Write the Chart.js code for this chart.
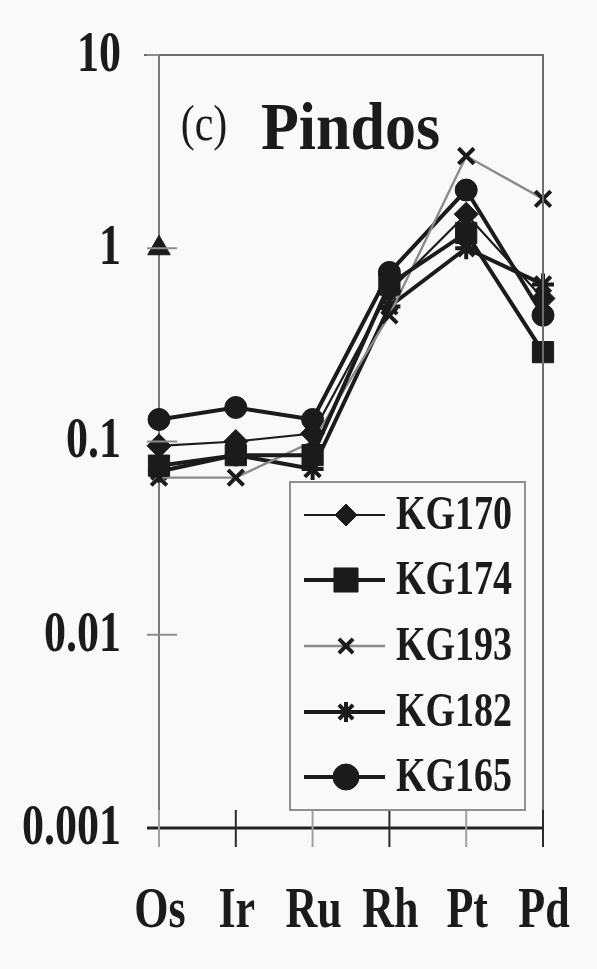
<!DOCTYPE html>
<html>
<head>
<meta charset="utf-8">
<title>Pindos PGE pattern</title>
<script src="https://cdn.jsdelivr.net/npm/chart.js@4/dist/chart.umd.min.js"></script>
<style>
  html, body { margin: 0; padding: 0; background: #f9f9f9; }
  #wrap { width: 597px; height: 969px; }
</style>
</head>
<body>
<div id="wrap"><canvas id="chart" width="597" height="969"></canvas></div>
<script>
// Chondrite-normalised PGE abundances, Pindos samples
const elements = ['Os', 'Ir', 'Ru', 'Rh', 'Pt', 'Pd'];
const kg170 = [0.095, 0.10, 0.11, 0.60, 1.5, 0.55];
const kg174 = [0.075, 0.085, 0.085, 0.65, 1.2, 0.29];
const kg193 = [0.065, 0.065, 0.10, 0.45, 3.0, 1.8];
const kg182 = [0.07, 0.085, 0.072, 0.50, 1.0, 0.65];
const kg165 = [0.13, 0.15, 0.13, 0.75, 2.0, 0.45];
const singleOs = [1, null, null, null, null, null];
const yTickValues = [0.001, 0.01, 0.1, 1, 10];
const yTickLabels = ['0.001', '0.01', '0.1', '1', '10'];

const INK = '#1b1b1b';
const GREY = '#8a8a8a';
const SERIF = '"Liberation Serif", "Times New Roman", serif';

function series(label, data, style, radius, lineWidth, lineColor, markerWidth) {
  return {
    label, data,
    borderColor: lineColor,
    borderWidth: lineWidth,
    pointStyle: style,
    pointRadius: radius,
    pointHoverRadius: radius,
    pointBackgroundColor: INK,
    pointBorderColor: INK,
    pointBorderWidth: markerWidth,
    tension: 0,
    clip: false,
    spanGaps: false
  };
}

const datasets = [
  series('KG170', kg170, 'rectRot', 12, 2.2, INK, 1),
  series('KG174', kg174, 'rect', 15, 4, INK, 1),
  series('KG193', kg193, 'crossRot', 11, 2.4, GREY, 4),
  series('KG182', kg182, 'star', 11, 4, INK, 4),
  series('KG165', kg165, 'circle', 11, 4, INK, 1),
  Object.assign(series('', singleOs, 'triangle', 13, 0, INK, 1), { showLine: false })
];

// text drawn with a vertical stretch factor
function stretchText(ctx, text, x, y, font, sy, align) {
  ctx.save();
  ctx.translate(x, y);
  ctx.scale(1, sy);
  ctx.font = font;
  ctx.fillStyle = INK;
  ctx.textAlign = align || 'center';
  ctx.textBaseline = 'middle';
  ctx.fillText(text, 0, 0);
  ctx.restore();
}

function legendMarker(ctx, style, x, y, r, bw) {
  ctx.fillStyle = INK;
  ctx.strokeStyle = INK;
  ctx.lineWidth = bw;
  Chart.helpers.drawPoint(ctx, { pointStyle: style, radius: r, rotation: 0, borderWidth: bw }, x, y);
}

const framePlugin = {
  id: 'frame',
  afterDraw(chart) {
    const { ctx, chartArea: a, scales } = chart;
    const xs = scales.x, ys = scales.y;
    ctx.save();
    ctx.lineCap = 'butt';

    // top and right edges of the frame
    ctx.strokeStyle = '#6d6d6d';
    ctx.lineWidth = 2;
    ctx.beginPath();
    ctx.moveTo(a.left - 15, a.top);
    ctx.lineTo(a.right + 1, a.top);
    ctx.moveTo(a.right, a.top);
    ctx.lineTo(a.right, a.bottom);
    ctx.stroke();

    // y tick marks crossing the axis
    ctx.strokeStyle = '#8c8c8c';
    ctx.lineWidth = 2;
    yTickValues.forEach(v => {
      const py = ys.getPixelForValue(v);
      ctx.beginPath();
      ctx.moveTo(a.left - 12, py);
      ctx.lineTo(v === 0.001 || v === 10 ? a.left : a.left + 18, py);
      ctx.stroke();
    });

    // bottom axis extends a little to the left
    ctx.strokeStyle = '#222';
    ctx.lineWidth = 3;
    ctx.beginPath();
    ctx.moveTo(a.left - 12, a.bottom);
    ctx.lineTo(a.right + 1, a.bottom);
    ctx.stroke();

    // x tick marks crossing the axis
    elements.forEach((el, i) => {
      const px = xs.getPixelForValue(i);
      ctx.strokeStyle = i % 2 ? '#2a2a2a' : '#a0a0a0';
      ctx.lineWidth = 2;
      ctx.beginPath();
      ctx.moveTo(px, a.bottom - 18);
      ctx.lineTo(px, a.bottom + 19);
      ctx.stroke();
    });

    // tick labels
    yTickValues.forEach((v, i) => {
      stretchText(ctx, yTickLabels[i], a.left - 38, ys.getPixelForValue(v) + 1,
        'bold 44px ' + SERIF, 1.3, 'right');
    });
    elements.forEach((el, i) => {
      stretchText(ctx, el, xs.getPixelForValue(i) + 1, a.bottom + 84,
        'bold 44px ' + SERIF, 1.3, 'center');
    });

    // panel title
    stretchText(ctx, '(c)', a.left + 45, a.top + 72, '42px ' + SERIF, 1.2, 'center');
    stretchText(ctx, 'Pindos', a.left + 102, a.top + 76, 'bold 62px ' + SERIF, 1.1, 'left');

    // legend box
    const lx = 290, ly = 482, lw = 235, lh = 328;
    ctx.fillStyle = '#f9f9f9';
    ctx.fillRect(lx, ly, lw, lh);
    ctx.strokeStyle = '#8f8f8f';
    ctx.lineWidth = 2;
    ctx.strokeRect(lx, ly, lw, lh);
    const rows = [515, 580, 646, 712, 777];
    const legendRadius = [11, 17, 10, 10, 13];
    chart.data.datasets.slice(0, 5).forEach((ds, i) => {
      const y = rows[i];
      ctx.strokeStyle = ds.borderColor;
      ctx.lineWidth = ds.borderWidth;
      ctx.beginPath();
      ctx.moveTo(304, y);
      ctx.lineTo(385, y);
      ctx.stroke();
      legendMarker(ctx, ds.pointStyle, 346, y, legendRadius[i], ds.pointBorderWidth);
      stretchText(ctx, ds.label, 396, y + 1, 'bold 38px ' + SERIF, 1.3, 'left');
    });
    ctx.restore();
  }
};

const bgPlugin = {
  id: 'bg',
  beforeDraw(chart) {
    const { ctx, width, height } = chart;
    ctx.save();
    ctx.fillStyle = '#f9f9f9';
    ctx.fillRect(0, 0, width, height);
    ctx.restore();
  }
};

function build() {
  new Chart(document.getElementById('chart'), {
    type: 'line',
    data: { labels: elements, datasets },
    options: {
      responsive: false,
      animation: false,
      devicePixelRatio: 1,
      layout: { padding: { left: 159, right: 54, top: 55, bottom: 141 } },
      plugins: { legend: { display: false }, tooltip: { enabled: false }, title: { display: false } },
      scales: {
        x: {
          type: 'category',
          offset: false,
          grid: { display: false, drawTicks: false },
          ticks: { display: false },
          border: { display: false }
        },
        y: {
          type: 'logarithmic',
          min: 0.001,
          max: 10,
          afterBuildTicks: s => { s.ticks = yTickValues.map(v => ({ value: v })); },
          grid: { display: false, drawTicks: false },
          ticks: { display: false },
          border: { display: true, color: '#7a7a7a', width: 2 }
        }
      },
      plugins: { legend: { display: false }, tooltip: { enabled: false } }
    },
    plugins: [bgPlugin, framePlugin]
  });
}

Promise.all([
  document.fonts.load('bold 44px "Liberation Serif"'),
  document.fonts.load('42px "Liberation Serif"')
]).then(build, build);
</script>
</body>
</html>
